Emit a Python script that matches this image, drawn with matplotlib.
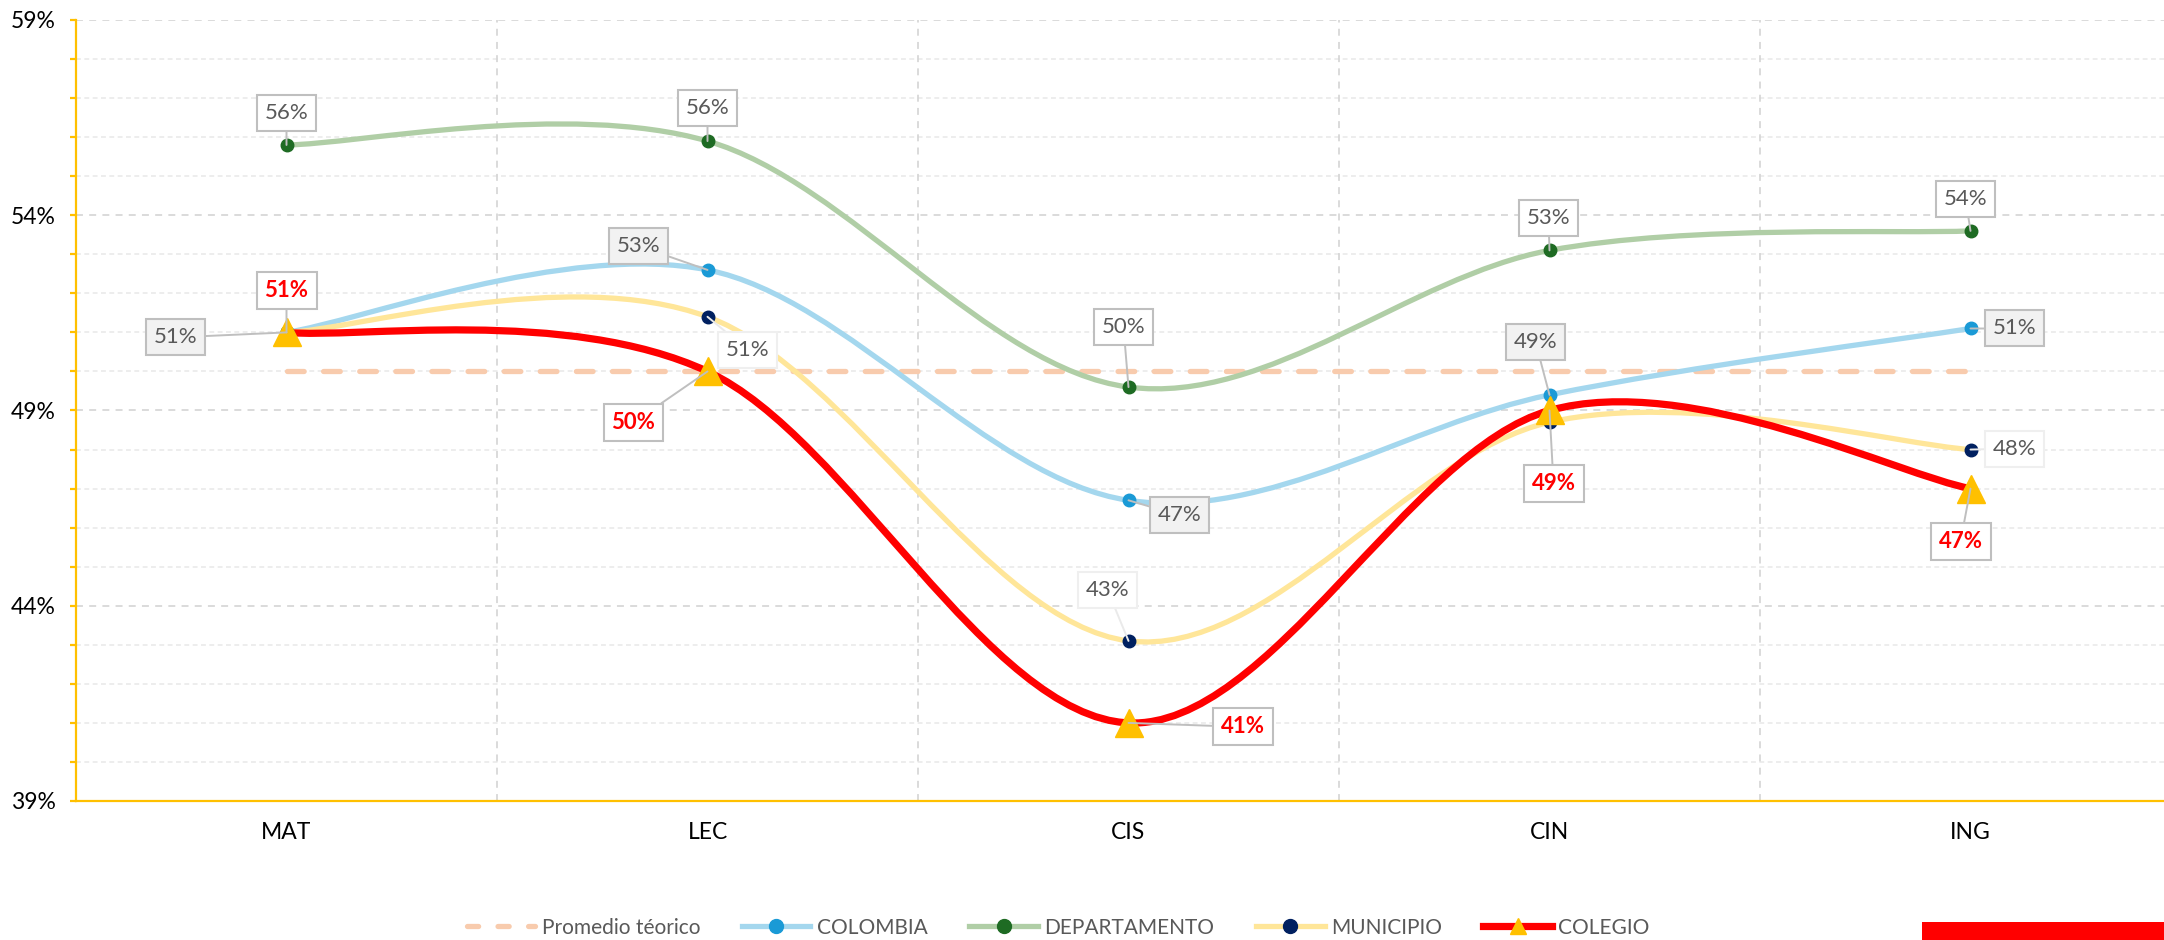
import matplotlib
matplotlib.use("Agg")
import matplotlib.pyplot as plt
import numpy as np
from matplotlib.path import Path
from matplotlib.patches import PathPatch, Rectangle
from matplotlib.lines import Line2D
from matplotlib.ticker import FixedLocator, FuncFormatter

plt.rcParams['font.family'] = ['Lato', 'DejaVu Sans']
plt.rcParams['lines.scale_dashes'] = False

# ===== DATA =====
categories = ["MAT", "LEC", "CIS", "CIN", "ING"]
promedio = [50.0, 50.0, 50.0, 50.0, 50.0]
colombia = [51.0, 52.6, 46.7, 49.4, 51.1]
departamento = [55.8, 55.9, 49.6, 53.1, 53.6]
municipio = [51.0, 51.4, 43.1, 48.7, 48.0]
colegio = [51.0, 50.0, 41.0, 49.0, 47.0]

# label offsets in pixels (dx, dy screen-down); None = no label
off_col = [(-111, 5), (-69, -24), (51, 15), (-14, -53), (44, 0)]
off_dep = [(0, -32), (0, -33), (-5, -60), (-1, -32), (-5, -32)]
off_mun = [None, (40, 33), (-21, -51), None, (44, -1)]
off_cole = [(0, -42), (-74, 51), (114, 4), (4, 73), (-10, 53)]

GRAY_TXT = "#595959"
YELLOW = "#FFC000"


def smooth_path(xs, ys):
    pts = np.column_stack([xs, ys]).astype(float)
    n = len(pts)
    verts = [pts[0]]
    codes = [Path.MOVETO]
    for i in range(n - 1):
        p0 = pts[max(i - 1, 0)]
        p1 = pts[i]
        p2 = pts[i + 1]
        p3 = pts[min(i + 2, n - 1)]
        verts += [p1 + (p2 - p0) / 6, p2 - (p3 - p1) / 6, p2]
        codes += [Path.CURVE4] * 3
    return Path(verts, codes)


fig = plt.figure(figsize=(21.64, 9.4), dpi=100)
ax = fig.add_axes([76 / 2164, 1 - 801 / 940, 2105 / 2164, 781 / 940])
ax.set_xlim(-0.5, 4.5)
ax.set_ylim(39, 59)
x = np.arange(len(categories))

# grid
ax.yaxis.set_major_locator(FixedLocator([39, 44, 49, 54, 59]))
ax.yaxis.set_minor_locator(FixedLocator(np.arange(39, 60, 1)))
ax.yaxis.set_major_formatter(FuncFormatter(lambda v, p: f"{v:.0f}%"))
ax.set_xticks(x)
ax.set_xticklabels(categories)
ax.set_xticks([0.5, 1.5, 2.5, 3.5], minor=True)

for yv in np.arange(40, 59, 1):
    if (yv - 39) % 5:
        ax.axhline(yv, color="#e8e8e8", lw=1.1, dashes=(3.5, 2.5), zorder=0)
for yv in [44, 49, 54, 59]:
    ax.axhline(yv, color="#d4d4d4", lw=1.2, dashes=(5, 4.5), zorder=0)
for xv in [0.5, 1.5, 2.5, 3.5]:
    ax.axvline(xv, color="#d4d4d4", lw=1.2, dashes=(5, 4.5), zorder=0)

for s in ["top", "right"]:
    ax.spines[s].set_visible(False)
for s in ["left", "bottom"]:
    ax.spines[s].set_color(YELLOW)
    ax.spines[s].set_linewidth(1.6)

ax.tick_params(axis="y", which="both", colors=YELLOW, length=4.5, width=1.6,
               labelcolor="black", labelsize=16.5, pad=10)
ax.tick_params(axis="x", which="both", length=0, labelsize=16.5, pad=15,
               labelcolor="black")

# promedio teorico
ax.plot(x, promedio, color="#F8CBAD", lw=3.8, dashes=(12, 14),
        solid_capstyle="round", dash_capstyle="round", zorder=2)

series = [
    (colombia, "#A4D7EE", 3.8, "o", "#1A9AD6", 9, off_col),
    (departamento, "#B0CEA6", 3.8, "o", "#1E6B23", 9, off_dep),
    (municipio, "#FFE699", 3.8, "o", "#002060", 9, off_mun),
    (colegio, "#FF0000", 5.2, "^", YELLOW, 20, off_cole),
]

z = 3
for vals, lc, lw, mk, mc, ms, offs in series:
    ax.add_patch(PathPatch(smooth_path(x, vals), fill=False, edgecolor=lc,
                           lw=lw, capstyle="round", zorder=z))
    z += 1

z = 10
for vals, lc, lw, mk, mc, ms, offs in series:
    ax.plot(x, vals, ls="none", marker=mk, ms=ms, mfc=mc, mec=mc, zorder=z)
    z += 1

# data labels
lab_styles = {
    "col": dict(fc="#F2F2F2", ec="#BFBFBF", tc=GRAY_TXT, fw="normal", lc="#BFBFBF"),
    "dep": dict(fc="white", ec="#BFBFBF", tc=GRAY_TXT, fw="normal", lc="#BFBFBF"),
    "mun": dict(fc="white", ec="#EFEFEF", tc=GRAY_TXT, fw="normal", lc="#EAEAEA"),
    "cole": dict(fc="white", ec="#BFBFBF", tc="#FF0000", fw="bold", lc="#BFBFBF"),
}
for key, (vals, *_rest) in zip(["col", "dep", "mun", "cole"], series):
    offs = _rest[-1]
    st = lab_styles[key]
    for i, v in enumerate(vals):
        if offs[i] is None:
            continue
        dx, dy = offs[i]
        ax.annotate(f"{v:.0f}%", xy=(x[i], v), xytext=(dx * 0.72, -dy * 0.72),
                    textcoords="offset points", ha="center", va="center",
                    fontsize=16, color=st["tc"], fontweight=st["fw"],
                    bbox=dict(boxstyle="square,pad=0.36", fc=st["fc"],
                              ec=st["ec"], lw=1.5),
                    arrowprops=dict(arrowstyle="-", color=st["lc"], lw=1.4,
                                    shrinkA=0, shrinkB=0),
                    zorder=20)

# legend
handles = [Line2D([], [], color="#F8CBAD", lw=3.8, dashes=(8, 14),
                  dash_capstyle="round")]
leg_ms = [10, 10, 10, 12]
for (vals, lc, lw, mk, mc, ms, offs), lms in zip(series, leg_ms):
    handles.append(Line2D([], [], color=lc, lw=lw, marker=mk, mfc=mc, mec=mc,
                          ms=lms))
names = ["Promedio téorico", "COLOMBIA", "DEPARTAMENTO", "MUNICIPIO", "COLEGIO"]
leg = fig.legend(handles, names, loc="center", bbox_to_anchor=(0.489, 0.013),
                 ncol=5, frameon=False, fontsize=15, handlelength=3.3,
                 handletextpad=0.3, columnspacing=2.0, labelcolor=GRAY_TXT)

fig.add_artist(Rectangle((1922 / 2164, 0), 242 / 2164, 18 / 940,
                         transform=fig.transFigure, color="#FF0000", lw=0))

fig.savefig("out.png", dpi=100)
